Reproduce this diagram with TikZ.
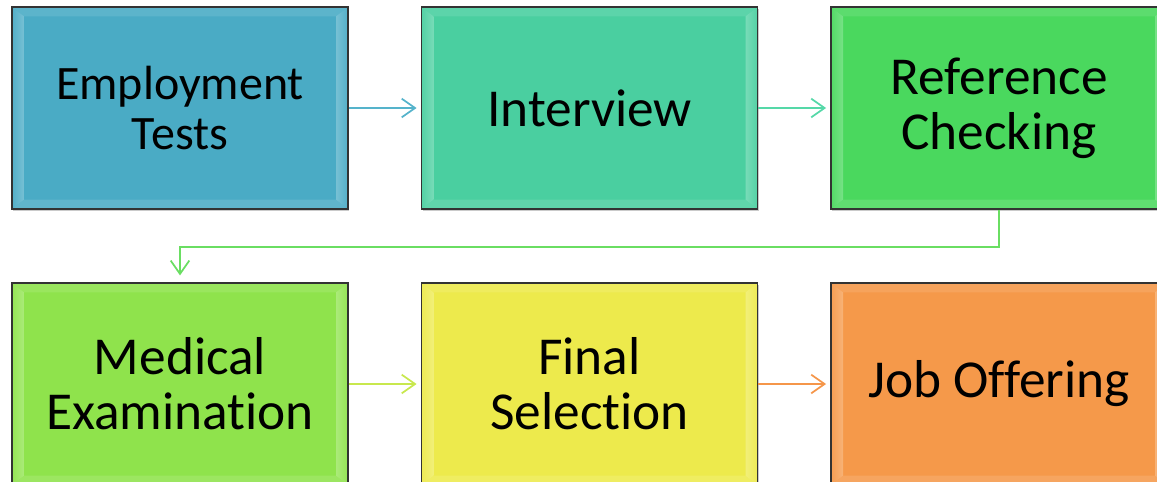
\documentclass[tikz,border=0pt]{standalone}
\usepackage{fontspec}
\setmainfont{Carlito}[Ligatures={NoCommon}]
\usetikzlibrary{arrows.meta,shadows,calc}
\definecolor{cA}{HTML}{4AABC5}
\definecolor{cB}{HTML}{4ACFA0}
\definecolor{cC}{HTML}{4AD85E}
\definecolor{cD}{HTML}{8FE34C}
\definecolor{cE}{HTML}{EDEA4C}
\definecolor{cF}{HTML}{F5994A}
\definecolor{aA}{HTML}{55B3CB}
\definecolor{aB}{HTML}{55D8A8}
\definecolor{aC}{HTML}{6ADE62}
\definecolor{aD}{HTML}{C8E84E}
\definecolor{aE}{HTML}{F5964A}
\tikzset{
  bev/.style={draw=black!80, line width=1.4pt, fill=#1,
    minimum width=252pt, minimum height=151.5pt, inner sep=0pt,
    font=\fontsize{40}{41.5}\selectfont, align=center, text=black,
    drop shadow={shadow xshift=1pt, shadow yshift=-1.5pt, opacity=0.35, fill=black!60},
    path picture={
      \path (path picture bounding box.south west) coordinate (@sw)
            (path picture bounding box.north east) coordinate (@ne);
      \path (@sw -| @ne) coordinate (@se) (@ne -| @sw) coordinate (@nw);
      % top strip
      \fill[#1!90!white] (@nw) -- (@ne) -- ([xshift=-9pt,yshift=-7pt]@ne) -- ([xshift=9pt,yshift=-7pt]@nw) -- cycle;
      % bottom strip
      \fill[#1!88!white] (@sw) -- (@se) -- ([xshift=-9pt,yshift=7pt]@se) -- ([xshift=9pt,yshift=7pt]@sw) -- cycle;
      % left strip
      \shade[left color=#1!95!white, middle color=#1!18!white, right color=#1!75!white]
        (@nw) -- ([xshift=9pt,yshift=-7pt]@nw) -- ([xshift=9pt,yshift=7pt]@sw) -- (@sw) -- cycle;
      % right strip
      \shade[left color=#1!75!white, middle color=#1!18!white, right color=#1!95!white]
        (@ne) -- ([xshift=-9pt,yshift=-7pt]@ne) -- ([xshift=-9pt,yshift=7pt]@se) -- (@se) -- cycle;
    }},
  smalltext/.style={font=\fontsize{36}{38}\selectfont},
  arr/.style={draw=#1, line width=1.3pt,
    -{Straight Barb[length=10pt,width=14pt,line width=1.3pt]}, shorten >=3pt}
}
\begin{document}
\begin{tikzpicture}[x=0.75pt,y=-0.75pt]
\useasboundingbox (0,0) rectangle (1157,482);
\node[bev=cA, smalltext] (b1) at (180,108) {Employment\\Tests};
\node[bev=cB] (b2) at (589.5,108) {Interview};
\node[bev=cC] (b3) at (999,108) {Reference\\Checking};
\node[bev=cD] (b4) at (180,384) {Medical\\Examination};
\node[bev=cE] (b5) at (589.5,384) {Final\\Selection};
\node[bev=cF] (b6) at (999,384) {Job Offering};
\draw[arr=aA] (b1) -- (b2);
\draw[arr=aB] (b2) -- (b3);
\draw[arr=aC, shorten >=5pt] (b3.south) -- ++(0,37) -| (b4.north);
\draw[arr=aD] (b4) -- (b5);
\draw[arr=aE] (b5) -- (b6);
\end{tikzpicture}
\end{document}
